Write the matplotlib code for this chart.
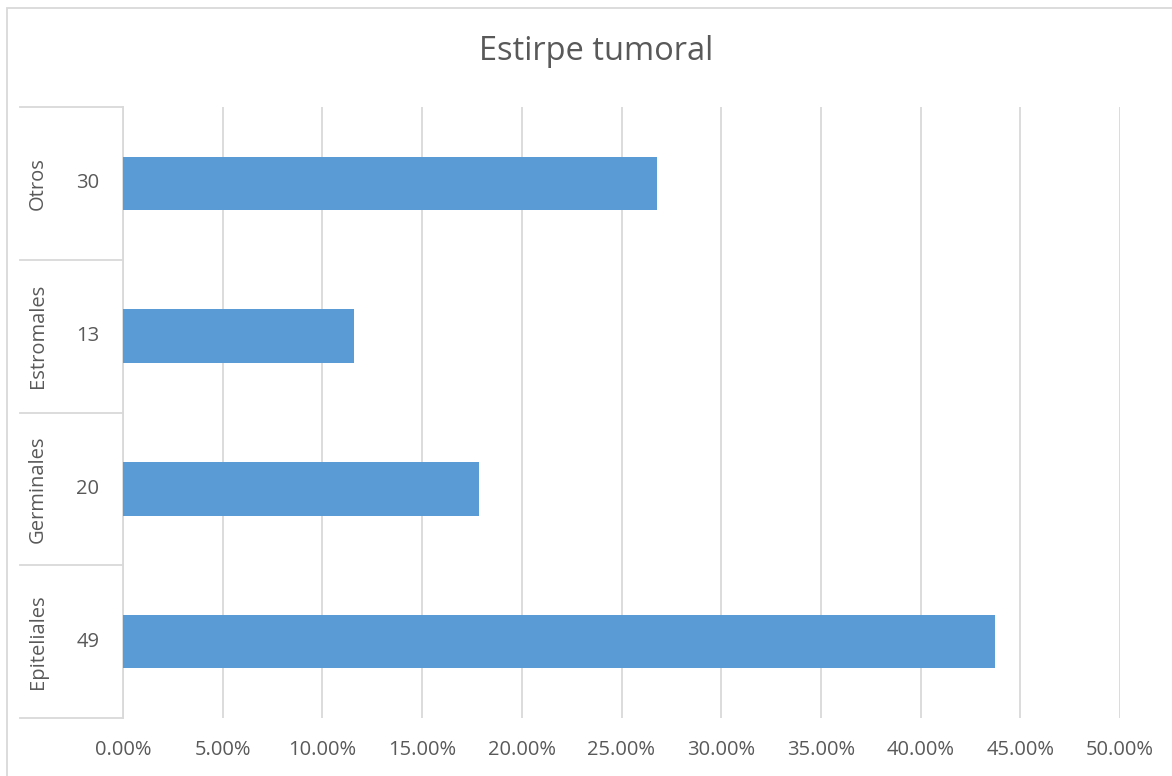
import matplotlib.pyplot as plt
from matplotlib.patches import Rectangle
from matplotlib.ticker import FuncFormatter

plt.rcParams["font.family"] = ["Open Sans", "DejaVu Sans"]

categories = ["Epiteliales", "Germinales", "Estromales", "Otros"]
counts = [49, 20, 13, 30]
total = sum(counts)
shares = [c / total for c in counts]
x_ticks = [0.0, 0.05, 0.10, 0.15, 0.20, 0.25, 0.30, 0.35, 0.40, 0.45, 0.50]

TEXT = "#595959"
GRID = "#D9D9D9"
BAR = "#5B9BD5"

W, H = 1172, 776
fig = plt.figure(figsize=(W / 100, H / 100), dpi=100)
ax = fig.add_axes([123 / W, 1 - 718 / H, (1120 - 123) / W, (718 - 107) / H])

ypos = list(range(len(categories)))
ax.barh(ypos, shares, height=0.35, color=BAR, zorder=3)
ax.set_xlim(0, 0.5)
ax.set_ylim(-0.5, len(categories) - 0.5)

ax.set_xticks(x_ticks)
ax.xaxis.set_major_formatter(FuncFormatter(lambda v, _: f"{v * 100:.2f}%"))
ax.tick_params(axis="x", length=0, pad=16, labelsize=14.5, labelcolor=TEXT)
ax.set_yticks([])
ax.grid(axis="x", color=GRID, linewidth=1.3, zorder=0)

for s in ["top", "right", "bottom"]:
    ax.spines[s].set_visible(False)
ax.spines["left"].set_color(GRID)
ax.spines["left"].set_linewidth(1.3)

# two-level category axis
trans = ax.get_yaxis_transform()
x_sep = (20 - 123) / (1120 - 123)
for i, (cat, n) in enumerate(zip(categories, counts)):
    ax.text((88 - 123) / 997, i, str(n), transform=trans, ha="center",
            va="center", fontsize=14.5, color=TEXT)
    ax.text((38 - 123) / 997, i, cat, transform=trans, ha="center",
            va="center", rotation=90, fontsize=14.5, color=TEXT)
for k in range(len(categories) + 1):
    ax.plot([x_sep, 0], [k - 0.5, k - 0.5], transform=trans, color=GRID,
            linewidth=1.3, clip_on=False)

fig.text(596 / W, 1 - 52 / H, "Estirpe tumoral", ha="center", va="center",
         fontsize=23.5, color=TEXT)

fig.add_artist(Rectangle((7 / W, -0.1), 1.2, 1.1 - 8 / H, transform=fig.transFigure,
                         fill=False, edgecolor=GRID, linewidth=1.3))

fig.savefig("out.png", dpi=100)
